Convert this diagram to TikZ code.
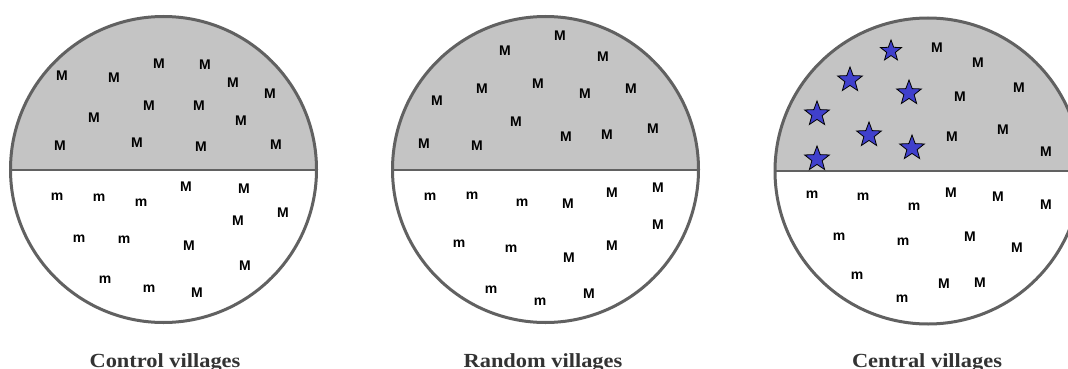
\documentclass[tikz,border=0pt]{standalone}
\usepackage{fontspec}
\usetikzlibrary{shapes.geometric}
\newfontfamily\lettersfont{Liberation Sans}
\newfontfamily\captionfont[FakeStretch=1.12]{Liberation Serif}
\definecolor{halfgray}{HTML}{C4C4C4}
\definecolor{rimgray}{HTML}{616161}
\definecolor{starblue}{HTML}{4040CC}
\definecolor{captiongray}{HTML}{333333}
\newcommand{\villagecircle}[2]{%
  \fill[halfgray] ({#1-153},#2) arc[start angle=180,end angle=0,radius=153] -- cycle;
  \draw[rimgray,line width=2pt] ({#1-153},#2) -- ({#1+153},#2);
  \draw[rimgray,line width=3pt] (#1,#2) circle (153);
}

\begin{document}
\begin{tikzpicture}[x=1pt,y=1pt]
  \tikzstyle{every node}+=[inner sep=0pt]
  \tikzstyle{bigm}=[font=\fontsize{14}{14}\selectfont\lettersfont\bfseries]
  \tikzstyle{smallm}=[font=\fontsize{14}{14}\selectfont\lettersfont\bfseries]
  \tikzstyle{villagestar}=[star,star points=5,star point ratio=2.4,draw=black,
    line width=0.8pt,fill=starblue,minimum size=26pt]
  \tikzstyle{villagecaption}=[anchor=base,text=captiongray,
    font=\fontsize{20}{20}\selectfont\captionfont\bfseries]
  \useasboundingbox (0,0) rectangle (1068,-369);
  \fill[white] (0,0) rectangle (1068,-369);

  % control villages
  \villagecircle{163.5}{-169.5}
  \foreach \x/\y [count=\i] in {62/76,114/78,159/64,205/65,233/83,270/94,149/106,
      199/106,94/118,241/121,60/146,137/143,201/147,276/145,186/187,244/189,
      283/213,238/221,189/246,245/266,197/293}
    \node[bigm] (ctlM\i) at (\x,-\y) {M};
  \foreach \x/\y [count=\i] in {57/197,99/198,141/203,79/239,124/240,105/280,149/289}
    \node[smallm] (ctlm\i) at (\x,-\y) {m};
  \node[villagecaption] (ctlcap) at (165,-367) {Control villages};

  % random villages
  \villagecircle{545.5}{-169.5}
  \foreach \x/\y [count=\i] in {560/36,505/51,603/57,482/89,538/84,585/94,631/89,
      437/101,516/122,424/144,477/146,566/137,607/135,653/129,568/204,612/193,
      658/188,658/225,569/258,612/246,589/294}
    \node[bigm] (rndM\i) at (\x,-\y) {M};
  \foreach \x/\y [count=\i] in {430/197,472/196,522/203,459/244,511/249,491/290,540/302}
    \node[smallm] (rndm\i) at (\x,-\y) {m};
  \node[villagecaption] (rndcap) at (543,-367) {Random villages};

  % central villages
  \villagecircle{928}{-171}
  \foreach \x/\y [count=\i] in {850/80,909/93,817/114,869/135,912/148,817/159}
    \node[villagestar] (star\i) at (\x,-\y) {};
  \node[villagestar,minimum size=22pt] (star7) at (891,-51) {};
  \foreach \x/\y [count=\i] in {937/48,978/63,1019/88,960/97,1003/130,952/137,
      1046/152,951/193,998/197,1046/205,970/237,1017/248,944/284,980/283}
    \node[bigm] (cenM\i) at (\x,-\y) {M};
  \foreach \x/\y [count=\i] in {812/195,863/197,914/207,839/237,903/242,857/276,902/299}
    \node[smallm] (cenm\i) at (\x,-\y) {m};
  \node[villagecaption] (cencap) at (927,-367) {Central villages};
\end{tikzpicture}
\end{document}
